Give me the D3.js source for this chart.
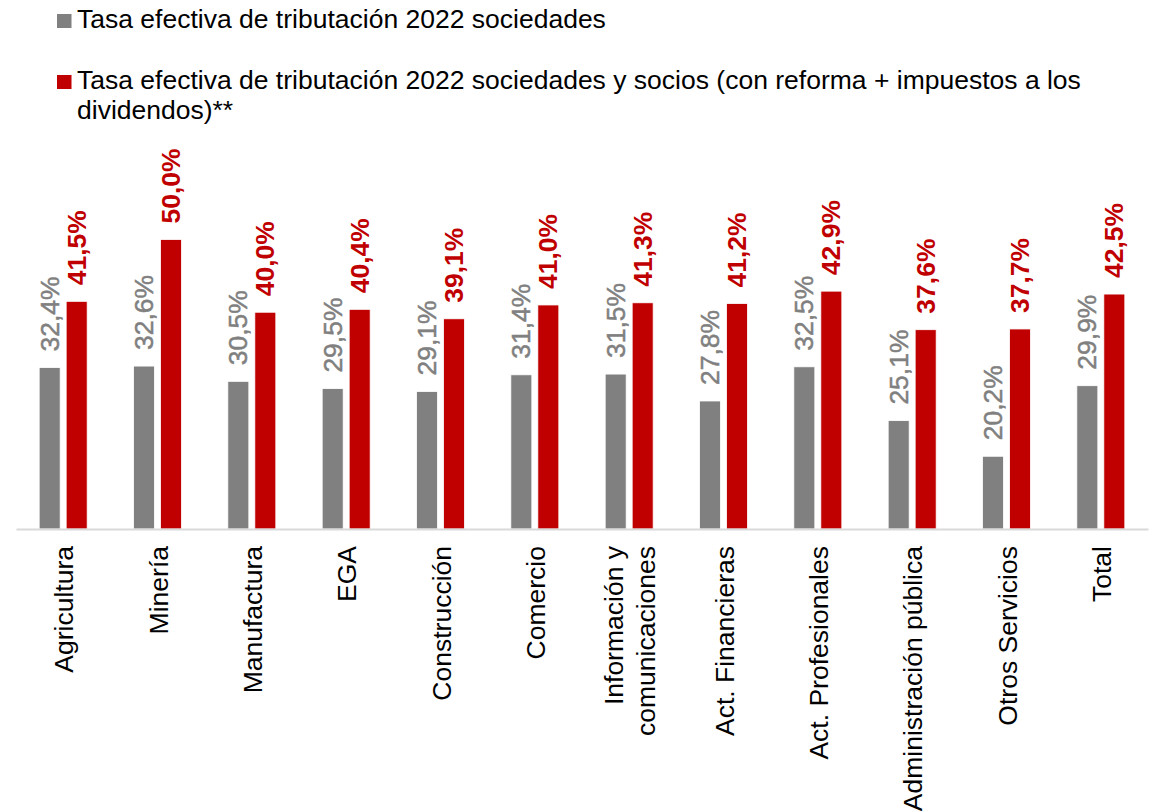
<!DOCTYPE html>
<html>
<head>
<meta charset="utf-8">
<script src="https://cdn.jsdelivr.net/npm/d3@7"></script>
<style>
  html, body { margin: 0; padding: 0; background: #fff; }
  svg { display: block; font-family: "Liberation Sans", Arial, sans-serif; }
</style>
</head>
<body>
<svg id="chart" width="1153" height="812"></svg>
<script>
// Sectors (a "\n" marks a forced line break in the axis label)
const categories = [
  "Agricultura", "Minería", "Manufactura", "EGA", "Construcción", "Comercio",
  "Información y\ncomunicaciones", "Act. Financieras", "Act. Profesionales",
  "Administración pública", "Otros Servicios", "Total"
];

// Effective tax rates, %
const sociedades = [32.4, 32.6, 30.5, 29.5, 29.1, 31.4, 31.5, 27.8, 32.5, 25.1, 20.2, 29.9];
const sociedadesSocios = [41.5, 50.0, 40.0, 40.4, 39.1, 41.0, 41.3, 41.2, 42.9, 37.6, 37.7, 42.5];

const seriesNames = [
  "Tasa efectiva de tributación 2022 sociedades",
  "Tasa efectiva de tributación 2022 sociedades y socios (con reforma + impuestos a los dividendos)**"
];
const seriesColors = ["#808080", "#c00000"];
const labelColors = ["#808080", "#c00000"];

const FS = 26.5;
const svg = d3.select("#chart");
const baseY = 529, topY = 239.5;

const x = d3.scaleBand().domain(categories).range([16, 1148]).padding(0);
const bw = x.bandwidth();
const xs = d3.scaleBand().domain([0, 1])
  .range([bw / 2 - 24, bw / 2 + 24]).paddingInner(0.222).paddingOuter(0);
const y = d3.scaleLinear().domain([10.2, 50]).range([baseY, topY]);

const fmt = v => v.toFixed(1).replace(".", ",") + "%";

const series = [sociedades, sociedadesSocios];

// bars and value labels
series.forEach((vals, s) => {
  const rows = categories.map((c, i) => ({ c, v: vals[i] }));
  const g = svg.append("g").attr("class", "series-" + s);
  g.selectAll("rect")
    .data(rows)
    .join("rect")
    .attr("x", d => x(d.c) + xs(s))
    .attr("width", xs.bandwidth())
    .attr("y", d => y(d.v))
    .attr("height", d => baseY - y(d.v))
    .attr("fill", seriesColors[s])
    .attr("stroke", "#ffffff")
    .attr("stroke-width", 0.8);

  g.selectAll("text")
    .data(rows)
    .join("text")
    .attr("transform", d => {
      const cx = x(d.c) + xs(s) + xs.bandwidth() / 2;
      return `translate(${cx},${y(d.v) - 16}) rotate(-90)`;
    })
    .attr("dy", "0.34em")
    .attr("text-anchor", "start")
    .attr("font-size", FS)
    .attr("font-weight", s === 1 ? "bold" : "normal")
    .attr("fill", labelColors[s])
    .attr("stroke", s === 0 ? labelColors[s] : "none")
    .attr("stroke-width", s === 0 ? 0.5 : 0)
    .text(d => fmt(d.v));
});

// category axis along the baseline
const xAxis = svg.append("g")
  .attr("transform", `translate(0,${baseY})`)
  .call(d3.axisBottom(x).tickSize(0).tickSizeOuter(0).tickFormat(""));
xAxis.select(".domain").attr("stroke", "#d9d9d9").attr("stroke-width", 2);

xAxis.selectAll(".tick").each(function (d) {
  const tick = d3.select(this);
  tick.select("text").remove();
  const lines = d.split("\n");
  const lh = 32;
  const t = tick.append("text")
    .attr("transform", "translate(0,17) rotate(-90)")
    .attr("text-anchor", "end")
    .attr("font-size", FS)
    .attr("fill", "#000");
  lines.forEach((ln, k) => {
    t.append("tspan")
      .attr("x", 0)
      .attr("y", 10 + (k - (lines.length - 1) / 2) * lh)
      .text(ln);
  });
});

// legend
const legend = svg.append("g");
const legendRowY = [27.5, 88.5];
const legendWidth = 1030;
seriesNames.forEach((name, s) => {
  const ry = legendRowY[s];
  legend.append("rect")
    .attr("x", 57).attr("y", ry - 13.5)
    .attr("width", 14.5).attr("height", 14)
    .attr("fill", seriesColors[s]);
  const t = legend.append("text")
    .attr("x", 77).attr("y", ry)
    .attr("font-size", FS)
    .attr("fill", "#000");
  // wrap by measured width
  const words = name.split(" ");
  let line = [];
  let ts = t.append("tspan").attr("x", 77).attr("y", ry);
  let lineNo = 0;
  words.forEach(w => {
    line.push(w);
    ts.text(line.join(" "));
    if (ts.node().getComputedTextLength() > legendWidth && line.length > 1) {
      line.pop();
      ts.text(line.join(" "));
      line = [w];
      lineNo++;
      ts = t.append("tspan").attr("x", 77).attr("y", ry + lineNo * 30).text(w);
    }
  });
});
</script>
</body>
</html>
